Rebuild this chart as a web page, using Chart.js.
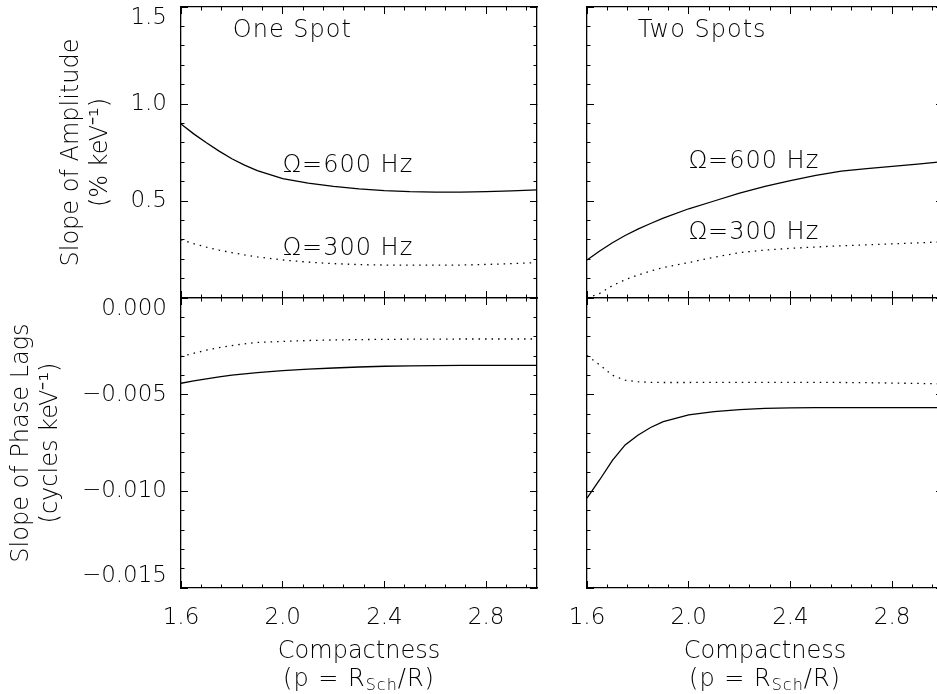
<!DOCTYPE html>
<html>
<head>
<meta charset="utf-8">
<script src="https://cdn.jsdelivr.net/npm/chart.js@4/dist/chart.umd.min.js"></script>
<style>
  html, body { margin: 0; padding: 0; background: #fff; overflow: hidden; }
  #wrap { position: relative; width: 937px; height: 694px; overflow: hidden; }
  #wrap canvas { position: absolute; left: 0; top: 0; }
</style>
</head>
<body>
<div id="wrap">
  <canvas id="ampOne" width="950" height="694"></canvas>
  <canvas id="ampTwo" width="950" height="694"></canvas>
  <canvas id="lagOne" width="950" height="694"></canvas>
  <canvas id="lagTwo" width="950" height="694"></canvas>
</div>
<script>
// compactness p = R_Sch / R
const compactness = [1.6, 1.65, 1.7, 1.75, 1.8, 1.85, 1.9, 2.0, 2.1, 2.2, 2.3, 2.4, 2.5, 2.6, 2.7, 2.8, 2.9, 3.0];

// slope of amplitude (% keV^-1)
const ampOne600 = [0.897, 0.846, 0.80, 0.757, 0.718, 0.685, 0.657, 0.615, 0.592, 0.575, 0.562, 0.553, 0.548, 0.546, 0.546, 0.548, 0.552, 0.557];
const ampOne300 = [0.30, 0.28, 0.262, 0.247, 0.234, 0.222, 0.212, 0.196, 0.185, 0.177, 0.172, 0.170, 0.169, 0.169, 0.170, 0.173, 0.177, 0.182];
const ampTwo600 = [0.196, 0.242, 0.285, 0.322, 0.355, 0.384, 0.412, 0.46, 0.50, 0.54, 0.575, 0.605, 0.632, 0.654, 0.667, 0.678, 0.69, 0.703];
const ampTwo300 = [0.0, 0.024, 0.064, 0.094, 0.118, 0.139, 0.157, 0.183, 0.21, 0.234, 0.247, 0.256, 0.263, 0.269, 0.274, 0.279, 0.284, 0.29];

// slope of phase lags (cycles keV^-1)
const lagOne600 = [-0.00441, -0.00429, -0.00418, -0.00408, -0.00399, -0.00392, -0.00386, -0.00376, -0.00368, -0.00362, -0.00357, -0.00353, -0.00351, -0.0035, -0.00349, -0.00348, -0.00348, -0.00348];
const lagOne300 = [-0.00303, -0.00286, -0.0027, -0.00257, -0.00246, -0.00237, -0.0023, -0.00225, -0.0022, -0.00217, -0.00215, -0.00214, -0.00213, -0.00213, -0.00212, -0.00212, -0.00212, -0.00212];
const lagTwo600 = [-0.01035, -0.0094, -0.0084, -0.0076, -0.0071, -0.0067, -0.0064, -0.00605, -0.00588, -0.00577, -0.00571, -0.00568, -0.00567, -0.00567, -0.00567, -0.00567, -0.00567, -0.00567];
const lagTwo300 = [-0.00298, -0.00346, -0.0040, -0.00425, -0.00433, -0.00436, -0.00437, -0.00437, -0.00436, -0.00436, -0.00436, -0.00436, -0.00436, -0.00437, -0.00438, -0.0044, -0.00442, -0.00444];

// tick labels (IDL style: end labels pushed inside the frame)
const xTickLabels = ['1.6', '2.0', '2.4', '2.8'];
const ampTickLabels = ['', '0.5', '1.0', ['', '1.5']];
const lagTickLabels = [['\u22120.015', ''], '\u22120.010', '\u22120.005', ['', '0.000']];

const FONT = 'DejaVu Sans';
const WEIGHT = 200;
Chart.defaults.font.family = FONT;
Chart.defaults.font.weight = WEIGHT;
Chart.defaults.color = '#000';

function fixSize(size) {
    return s => {
        if (s.isHorizontal()) s.height = size; else s.width = size;
        s.paddingLeft = s.paddingRight = s.paddingTop = s.paddingBottom = 0;
    };
}

// two scales per frame side: long major ticks and short minor ticks, both pointing inward
function side(pos, min, max, majorStep, minorStep, size, labels, title, titlePad) {
    const horizontal = pos === 'top' || pos === 'bottom';
    const grid = { drawOnChartArea: false, drawTicks: true, tickColor: '#000', tickWidth: 1 };
    const major = {
        type: 'linear', position: pos, min, max, weight: 1,
        border: { display: true, color: '#000', width: 1.3 },
        grid: { ...grid, tickLength: -7 },
        ticks: {
            stepSize: majorStep, includeBounds: false, autoSkip: false, maxRotation: 0,
            display: !!labels,
            callback: (v, i) => labels ? labels[i] : '',
            padding: horizontal ? 23 : 21,
            font: { size: 23, lineHeight: horizontal ? 1.2 : 1.0 }
        },
        afterFit: fixSize(size)
    };
    if (title) {
        major.title = {
            display: true, text: title,
            font: { size: 24, lineHeight: 1.2 },
            padding: horizontal ? { top: 0, bottom: titlePad } : { top: titlePad, bottom: 0 }
        };
    }
    const minor = {
        type: 'linear', position: pos, min, max, weight: 0,
        border: { display: false },
        grid: { ...grid, tickLength: -3.5 },
        ticks: { stepSize: minorStep, includeBounds: false, display: false },
        afterFit: fixSize(0)
    };
    return [major, minor];
}

const notesPlugin = {
    id: 'notes',
    afterDraw(chart, args, opts) {
        const { ctx, scales } = chart;
        ctx.save();
        ctx.fillStyle = '#000';
        ctx.textBaseline = 'middle';
        ctx.textAlign = 'left';
        ctx.letterSpacing = '1px';
        ctx.font = `${WEIGHT} 24px "${FONT}"`;
        (opts.notes || []).forEach(n => {
            ctx.fillText(n.text, scales.x.getPixelForValue(n.x), scales.y.getPixelForValue(n.y));
        });
        if (opts.subTitle) {
            // second line of the x title: (p = R_Sch/R)
            const big = `${WEIGHT} 24px "${FONT}"`;
            const small = `${WEIGHT} 16px "${FONT}"`;
            const parts = [['(p = R', big, 0], ['Sch', small, 6], ['/R)', big, 0]];
            let total = 0;
            parts.forEach(p => { ctx.font = p[1]; total += ctx.measureText(p[0]).width; });
            let x = (chart.chartArea.left + chart.chartArea.right) / 2 - total / 2;
            const y = scales.x.bottom - 14;
            parts.forEach(p => {
                ctx.font = p[1];
                ctx.fillText(p[0], x, y + p[2]);
                x += ctx.measureText(p[0]).width;
            });
        }
        ctx.restore();
    }
};

function line(values, dotted) {
    return {
        data: compactness.map((x, i) => ({ x, y: values[i] })),
        borderColor: '#000',
        borderWidth: 1.3,
        borderDash: dotted ? [1.5, 5] : [],
        pointRadius: 0,
        fill: false
    };
}

function panel(id, cfg) {
    const [x, xm] = side('bottom', 1.6, 3.0, 0.4, 0.08, cfg.xHeight, cfg.xLabels, cfg.xTitle, 27.6);
    const [xt, xtm] = side('top', 1.6, 3.0, 0.4, 0.08, 0, null);
    const [y, ym] = side('left', cfg.yMin, cfg.yMax, cfg.yMajor, cfg.yMinor, cfg.yWidth, cfg.yLabels, cfg.yTitle, cfg.yTitlePad);
    const [yr, yrm] = side('right', cfg.yMin, cfg.yMax, cfg.yMajor, cfg.yMinor, 0, null);
    new Chart(document.getElementById(id), {
        type: 'line',
        data: { datasets: cfg.datasets },
        options: {
            responsive: false,
            animation: false,
            layout: { padding: cfg.padding },
            scales: { x, xm, xt, xtm, y, ym, yr, yrm },
            plugins: {
                legend: { display: false },
                tooltip: { enabled: false },
                notes: { notes: cfg.notes, subTitle: !!cfg.xTitle }
            }
        },
        plugins: [notesPlugin]
    });
}

const ampAxis = { yMin: 0, yMax: 1.5, yMajor: 0.5, yMinor: 0.1 };
const lagAxis = { yMin: -0.015, yMax: 0, yMajor: 0.005, yMinor: 0.001 };

panel('ampOne', {
    ...ampAxis,
    datasets: [line(ampOne600, false), line(ampOne300, true)],
    padding: { left: 0, top: 7, right: 413, bottom: 396 },
    xHeight: 0, xLabels: null,
    yWidth: 181, yLabels: ampTickLabels, yTitle: ['Slope of Amplitude', '(% keV\u207B\u00B9)'], yTitlePad: 57.6,
    notes: [
        { text: 'One Spot', x: 1.804, y: 1.375 },
        { text: '\u03A9=600 Hz', x: 2.0, y: 0.68 },
        { text: '\u03A9=300 Hz', x: 2.0, y: 0.253 }
    ]
});

panel('ampTwo', {
    ...ampAxis,
    datasets: [line(ampTwo600, false), line(ampTwo300, true)],
    padding: { left: 587, top: 7, right: 7, bottom: 396 },
    xHeight: 0, xLabels: null,
    yWidth: 0, yLabels: null,
    notes: [
        { text: 'Two Spots', x: 1.80, y: 1.38 },
        { text: '\u03A9=600 Hz', x: 2.0, y: 0.701 },
        { text: '\u03A9=300 Hz', x: 2.0, y: 0.335 }
    ]
});

panel('lagOne', {
    ...lagAxis,
    datasets: [line(lagOne600, false), line(lagOne300, true)],
    padding: { left: 0, top: 298, right: 413, bottom: 0 },
    xHeight: 106, xLabels: xTickLabels, xTitle: 'Compactness',
    yWidth: 181, yLabels: lagTickLabels, yTitle: ['Slope of Phase Lags', '(cycles keV\u207B\u00B9)'], yTitlePad: 7.6,
    notes: []
});

panel('lagTwo', {
    ...lagAxis,
    datasets: [line(lagTwo600, false), line(lagTwo300, true)],
    padding: { left: 587, top: 298, right: 7, bottom: 0 },
    xHeight: 106, xLabels: xTickLabels, xTitle: 'Compactness',
    yWidth: 0, yLabels: null,
    notes: []
});
</script>
</body>
</html>
